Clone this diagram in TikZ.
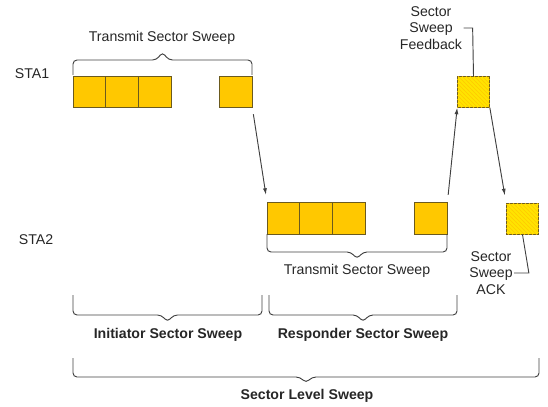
\documentclass[tikz,border=0pt]{standalone}
\usepackage{fontspec}
\setmainfont{Liberation Sans}
\usepackage{tikz}
\usetikzlibrary{arrows.meta,positioning,calc,patterns}

\definecolor{slotfill}{HTML}{FFC800}
\definecolor{slotedge}{HTML}{6B5A1E}
\definecolor{hatchfill}{HTML}{FFE400}
\definecolor{inkgray}{HTML}{404040}

% brace: x1, x2, y at the ends, y of the bar, y of the tip
\newcommand{\sweepbrace}[5]{%
  \draw[brc] (#1,#3) -- (#1,#4) -- ({(#1+#2)/2-6},#4) -- ({(#1+#2)/2},#5)
    -- ({(#1+#2)/2+6},#4) -- (#2,#4) -- (#2,#3);}

\begin{document}
\begin{tikzpicture}[
  x=0.75pt, y=-0.75pt,
  slot/.style={draw=slotedge, fill=slotfill, line width=0.8pt, minimum width=24.5pt,
    minimum height=23.5pt, inner sep=0pt, outer sep=0pt},
  hslot/.style={slot, fill=hatchfill, postaction={pattern=north west lines, pattern color=slotfill}},
  arr/.style={-{Latex[length=5pt,width=3pt]}, draw=inkgray, line width=0.7pt},
  lead/.style={draw=inkgray, line width=0.7pt},
  brc/.style={draw=inkgray, line width=0.7pt, rounded corners=3pt},
  lab/.style={font=\fontsize{10.6}{12.2}\selectfont, text=black!85, align=center, inner sep=1pt},
  blab/.style={lab, font=\fontsize{10.6}{12.2}\selectfont\bfseries}
]
\useasboundingbox (0,0) rectangle (548,406);

% stations
\node[lab] (sta1) at (32,74) {STA1};
\node[lab] (sta2) at (36,240) {STA2};

% initiator frames
\node[slot] (a1) at (89.5,92) {};
\node[slot, right=0pt of a1] (a2) {};
\node[slot, right=0pt of a2] (a3) {};
\node[slot] (a4) at (236,92) {};

% responder frames
\node[slot] (b1) at (283.5,218.5) {};
\node[slot, right=0pt of b1] (b2) {};
\node[slot, right=0pt of b2] (b3) {};
\node[slot] (b4) at (431,218.5) {};

% feedback and ack
\node[hslot] (fb) at (473.5,92) {};
\node[hslot] (ack) at (522.5,219) {};

\node[lab] (fbl) at (431,28) {Sector\\Sweep\\Feedback};
\node[lab] (ackl) at (491,273) {Sector\\Sweep\\ACK};
\draw[lead] (fbl.east) -- ++(9,0) -- (fb.north);
\draw[lead] (ack.south) -- ([xshift=11pt]ackl.east) -- (ackl.east);

\draw[arr, shorten <=5pt, shorten >=6pt] (a4.south east) -- (b1.north west);
\draw[arr, shorten <=6pt] (b4.north east) -- (fb.south west);
\draw[arr, shorten >=6pt] (fb.south east) -- (ack.north west);

% braces
\sweepbrace{73}{252}{75}{60}{52}
\node[lab] (tx1) at (162,38) {Transmit Sector Sweep};
\sweepbrace{267}{447}{234}{252}{259}
\node[lab] (tx2) at (357,271) {Transmit Sector Sweep};

\sweepbrace{73}{262}{295}{315}{322}
\node[blab] (iss) at (168,335) {Initiator Sector Sweep};
\sweepbrace{269}{457}{295}{315}{322}
\node[blab] (rss) at (363,335) {Responder Sector Sweep};
\sweepbrace{73}{539}{358}{377}{383}
\node[blab] (sls) at (307,396) {Sector Level Sweep};
\end{tikzpicture}
\end{document}
